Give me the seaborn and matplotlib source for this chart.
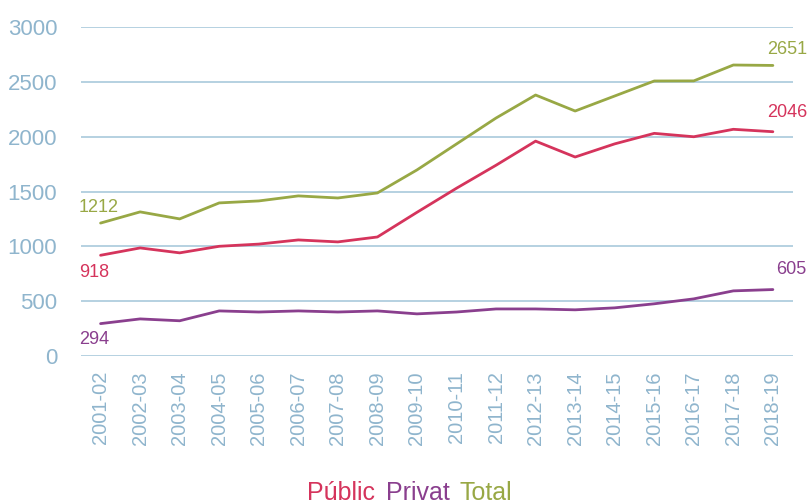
import pandas as pd
import seaborn as sns
import matplotlib.pyplot as plt

# Data
years = ["2001-02", "2002-03", "2003-04", "2004-05", "2005-06", "2006-07",
         "2007-08", "2008-09", "2009-10", "2010-11", "2011-12", "2012-13",
         "2013-14", "2014-15", "2015-16", "2016-17", "2017-18", "2018-19"]
public = [918, 985, 940, 1000, 1020, 1058, 1040, 1085, 1310, 1530,
          1740, 1960, 1815, 1935, 2031, 2000, 2068, 2046]
privat = [294, 337, 320, 410, 400, 410, 400, 410, 383, 400,
          428, 428, 420, 438, 475, 520, 593, 605]
total = [1212, 1314, 1250, 1396, 1414, 1460, 1441, 1487, 1697, 1934,
         2171, 2381, 2235, 2372, 2509, 2510, 2655, 2651]

series_names = ["Públic", "Privat", "Total"]
colors = {"Públic": "#d5345c", "Privat": "#8a3f8e", "Total": "#98a845"}
tick_color = "#8fb5cd"
grid_color = "#a9c9db"

df = pd.DataFrame({"year": years, "Públic": public, "Privat": privat, "Total": total})
long_df = df.melt(id_vars="year", var_name="serie", value_name="value")
long_df["pos"] = long_df["year"].map({y: i for i, y in enumerate(years)})

sns.set_style("white")
plt.rcParams["font.family"] = ["Liberation Sans", "DejaVu Sans"]

fig = plt.figure(figsize=(8.08, 5.04), dpi=100)
ax = fig.add_axes([0.1, 0.294, 0.881, 0.652])

sns.lineplot(data=long_df, x="pos", y="value", hue="serie", hue_order=series_names,
             palette=colors, linewidth=2, legend=False, ax=ax)

ax.set_xlim(-0.5, len(years) - 0.5)
ax.set_ylim(0, 3000)
ax.set_yticks(range(0, 3001, 500))
ax.set_xticks(range(len(years)))
ax.set_xticklabels(years, rotation=90)
ax.tick_params(axis="x", colors=tick_color, labelsize=14.5, length=0, pad=11)
ax.tick_params(axis="y", colors=tick_color, labelsize=16, length=0, pad=17)
ax.yaxis.grid(True, color=grid_color, linewidth=1.2)
ax.set_axisbelow(True)
for s in ax.spines.values():
    s.set_visible(False)
ax.set_xlabel("")
ax.set_ylabel("")

# Start and end value labels
offsets_start = {"Públic": (-15.5, -6), "Privat": (-15.5, -5), "Total": (-15.5, 5)}
offsets_end = {"Públic": (-4, 8), "Privat": (2, 8), "Total": (-4, 5)}
for name in series_names:
    vals = df[name]
    ax.annotate(str(vals.iloc[0]), (0, vals.iloc[0]), xytext=offsets_start[name],
                textcoords="offset points", color=colors[name], fontsize=13,
                ha="left", va="bottom" if offsets_start[name][1] > 0 else "top",
                annotation_clip=False)
    ax.annotate(str(vals.iloc[-1]), (len(years) - 1, vals.iloc[-1]), xytext=offsets_end[name],
                textcoords="offset points", color=colors[name], fontsize=13,
                ha="left", va="bottom", annotation_clip=False)

# Legend as coloured words at the bottom
fig.text(0.380, 0.008, "Públic", color=colors["Públic"], fontsize=18, ha="left")
fig.text(0.478, 0.008, "Privat", color=colors["Privat"], fontsize=18, ha="left")
fig.text(0.569, 0.008, "Total", color=colors["Total"], fontsize=18, ha="left")

plt.savefig("out.png", dpi=100)
